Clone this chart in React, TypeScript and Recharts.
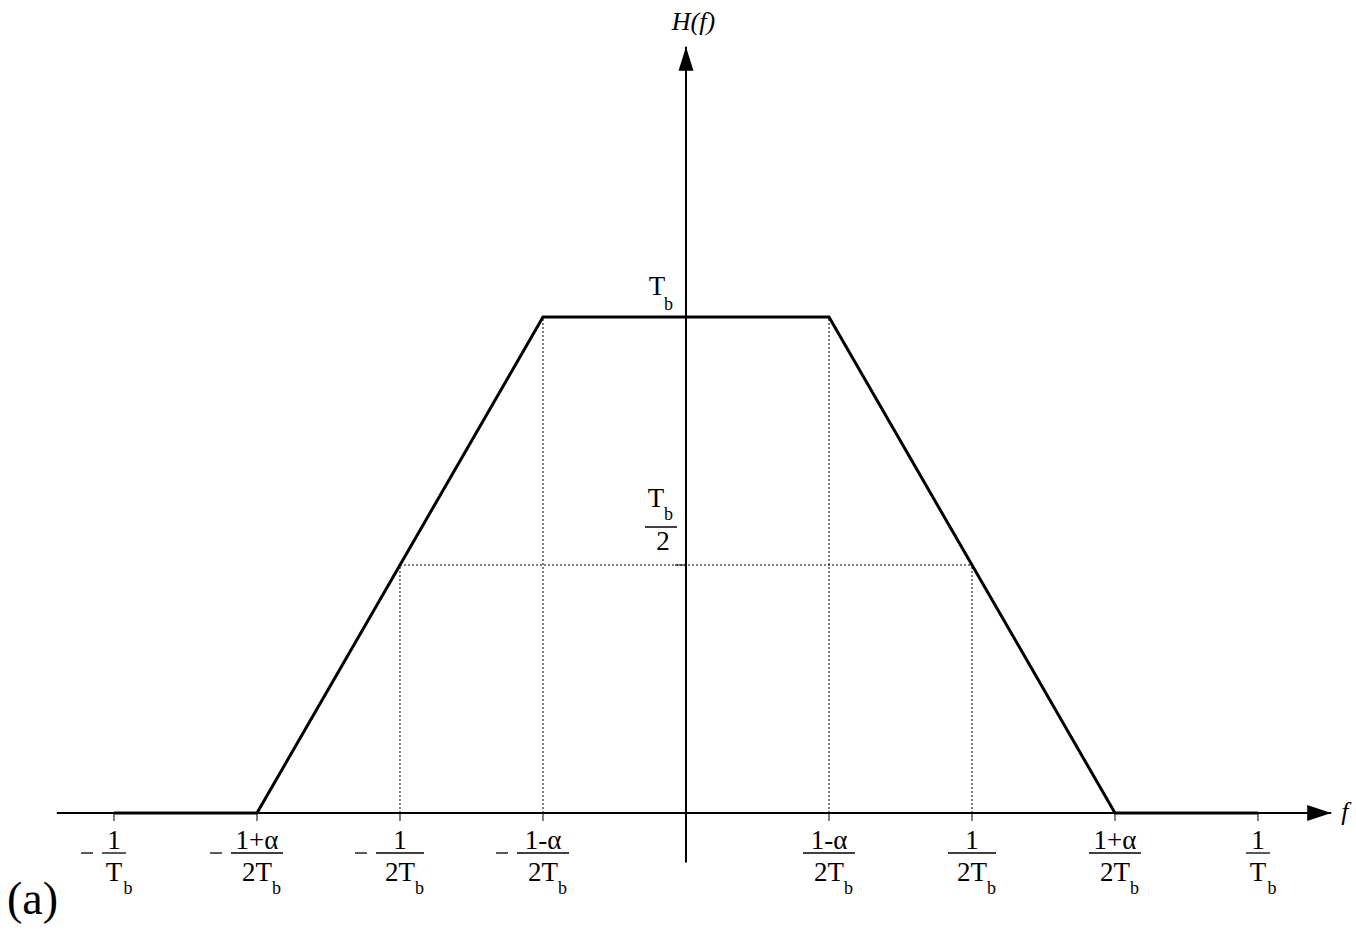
import React from 'react';
import { ComposedChart, Line, XAxis, YAxis, ReferenceLine, ReferenceDot } from 'recharts';

// Trapezoid (raised-cosine-like) response, f in units of 1/T_b, H in units of T_b
const freqPoints = [-1, -0.75, -0.25, 0.25, 0.75, 1];
const gainPoints = [0, 0, 1, 1, 0, 0];

// x-axis tick labels (fractions)
const tickPositions = [-1, -0.75, -0.5, -0.25, 0.25, 0.5, 0.75, 1];
const tickNumerators = ['1', '1+α', '1', '1-α', '1-α', '1', '1+α', '1'];
const tickDenominators = ['T', '2T', '2T', '2T', '2T', '2T', '2T', 'T'];
const tickSubscripts = ['b', 'b', 'b', 'b', 'b', 'b', 'b', 'b'];

// dotted guide lines
const vGuideX = [-0.5, -0.25, 0.25, 0.5];
const vGuideTop = [0.5, 1, 1, 0.5];
const hGuideY = [0.5];
const hGuideFrom = [-0.5];
const hGuideTo = [0.5];

const plateauLevel = 1;
const halfLevel = 0.5;
const xAxisLabel = 'f';
const yAxisLabel = 'H(f)';
const caption = '(a)';

const X_DOMAIN: [number, number] = [-1.1, 1.128];
const Y_DOMAIN: [number, number] = [-0.1, 1.545];

const data = freqPoints.map((f, i) => ({ f, h: gainPoints[i] }));

const FONT = '"Liberation Serif", "Times New Roman", serif';
const MAIN = 27;
const SUB = 18;

const fracLineW = (num: string, den: string) => (den === 'T' ? 24 : num === '1' ? 48 : 52);
const denHalf = (den: string) => (den === 'T' ? 9.5 : 15);

const makeTick = (i: number) => (props: any) => {
  const { cx, cy } = props;
  const num = tickNumerators[i];
  const den = tickDenominators[i];
  const sub = tickSubscripts[i];
  const neg = tickPositions[i] < 0;
  const w = fracLineW(num, den);
  return (
    <g fontFamily={FONT} fill="#000">
      <line x1={cx} y1={cy} x2={cx} y2={cy + 8} stroke="#000" strokeWidth={1} />
      <text x={cx} y={cy + 36} textAnchor="middle" fontSize={MAIN}>{num}</text>
      <line x1={cx - w / 2} x2={cx + w / 2} y1={cy + 40} y2={cy + 40} stroke="#000" strokeWidth={1.3} />
      <text x={cx} y={cy + 68} textAnchor="middle" fontSize={MAIN}>{den}</text>
      <text x={cx + denHalf(den)} y={cy + 81} textAnchor="start" fontSize={SUB}>{sub}</text>
      {neg && (
        <line x1={cx - w / 2 - 21} x2={cx - w / 2 - 9} y1={cy + 40} y2={cy + 40} stroke="#000" strokeWidth={1.3} />
      )}
    </g>
  );
};

const PlateauLabel = (props: any) => {
  const { cx, cy } = props;
  return (
    <g fontFamily={FONT} fill="#000">
      <text x={cx - 29} y={cy - 22} textAnchor="middle" fontSize={MAIN}>T</text>
      <text x={cx - 22} y={cy - 7} textAnchor="start" fontSize={SUB}>b</text>
    </g>
  );
};

const HalfLabel = (props: any) => {
  const { cx, cy } = props;
  return (
    <g fontFamily={FONT} fill="#000">
      <line x1={cx - 11} x2={cx} y1={cy} y2={cy} stroke="#000" strokeWidth={1} />
      <text x={cx - 30} y={cy - 58} textAnchor="middle" fontSize={MAIN}>T</text>
      <text x={cx - 22} y={cy - 45} textAnchor="start" fontSize={SUB}>b</text>
      <line x1={cx - 41} x2={cx - 9} y1={cy - 38} y2={cy - 38} stroke="#000" strokeWidth={1.3} />
      <text x={cx - 23} y={cy - 15} textAnchor="middle" fontSize={MAIN}>2</text>
    </g>
  );
};

const YArrow = (props: any) => {
  const { cx, cy } = props;
  return (
    <g fontFamily={FONT} fill="#000">
      <polygon points={`${cx},${cy} ${cx - 7.5},${cy + 24} ${cx + 7.5},${cy + 24}`} fill="#000" />
      <text x={cx + 7.5} y={cy - 17} textAnchor="middle" fontSize={26} fontStyle="italic">{yAxisLabel}</text>
    </g>
  );
};

const XArrow = (props: any) => {
  const { cx, cy } = props;
  return (
    <g fontFamily={FONT} fill="#000">
      <polygon points={`${cx},${cy} ${cx - 24},${cy - 8} ${cx - 24},${cy + 8}`} fill="#000" />
      <text x={cx + 10} y={cy + 7} textAnchor="start" fontSize={26} fontStyle="italic">{xAxisLabel}</text>
    </g>
  );
};

export default function App() {
  return (
    <div style={{ position: 'absolute', left: 0, top: 0, width: 1356, height: 936, background: '#fff' }}>
      <ComposedChart
        width={1356}
        height={936}
        data={data}
        margin={{ top: 46.7, right: 24.8, bottom: 73.4, left: 56.8 }}
      >
        <XAxis type="number" dataKey="f" domain={X_DOMAIN} hide allowDataOverflow />
        <YAxis type="number" domain={Y_DOMAIN} hide allowDataOverflow />
        {vGuideX.map((x, i) => (
          <ReferenceLine
            key={`vg${i}`}
            segment={[{ x, y: 0 }, { x, y: vGuideTop[i] }]}
            stroke="#000"
            strokeWidth={1}
            strokeDasharray="2 2"
          />
        ))}
        {hGuideY.map((y, i) => (
          <ReferenceLine
            key={`hg${i}`}
            segment={[{ x: hGuideFrom[i], y }, { x: hGuideTo[i], y }]}
            stroke="#000"
            strokeWidth={1}
            strokeDasharray="2 2"
          />
        ))}
        <ReferenceLine y={0} stroke="#000" strokeWidth={2} />
        <ReferenceLine x={0} stroke="#000" strokeWidth={2} />
        <Line
          type="linear"
          dataKey="h"
          stroke="#000"
          strokeWidth={3}
          strokeLinejoin="miter"
          dot={false}
          activeDot={false}
          isAnimationActive={false}
        />
        {tickPositions.map((x, i) => (
          <ReferenceDot key={`t${i}`} x={x} y={0} r={0} shape={makeTick(i)} />
        ))}
        <ReferenceDot x={0} y={plateauLevel} r={0} shape={PlateauLabel} />
        <ReferenceDot x={0} y={halfLevel} r={0} shape={HalfLabel} />
        <ReferenceDot x={0} y={Y_DOMAIN[1]} r={0} shape={YArrow} ifOverflow="visible" />
        <ReferenceDot x={X_DOMAIN[1]} y={0} r={0} shape={XArrow} ifOverflow="visible" />
      </ComposedChart>
      <svg
        width={1356}
        height={936}
        style={{ position: 'absolute', left: 0, top: 0, pointerEvents: 'none', overflow: 'visible' }}
      >
        <text x={7} y={914} fontFamily={FONT} fontSize={46} fill="#000">{caption}</text>
      </svg>
    </div>
  );
}
